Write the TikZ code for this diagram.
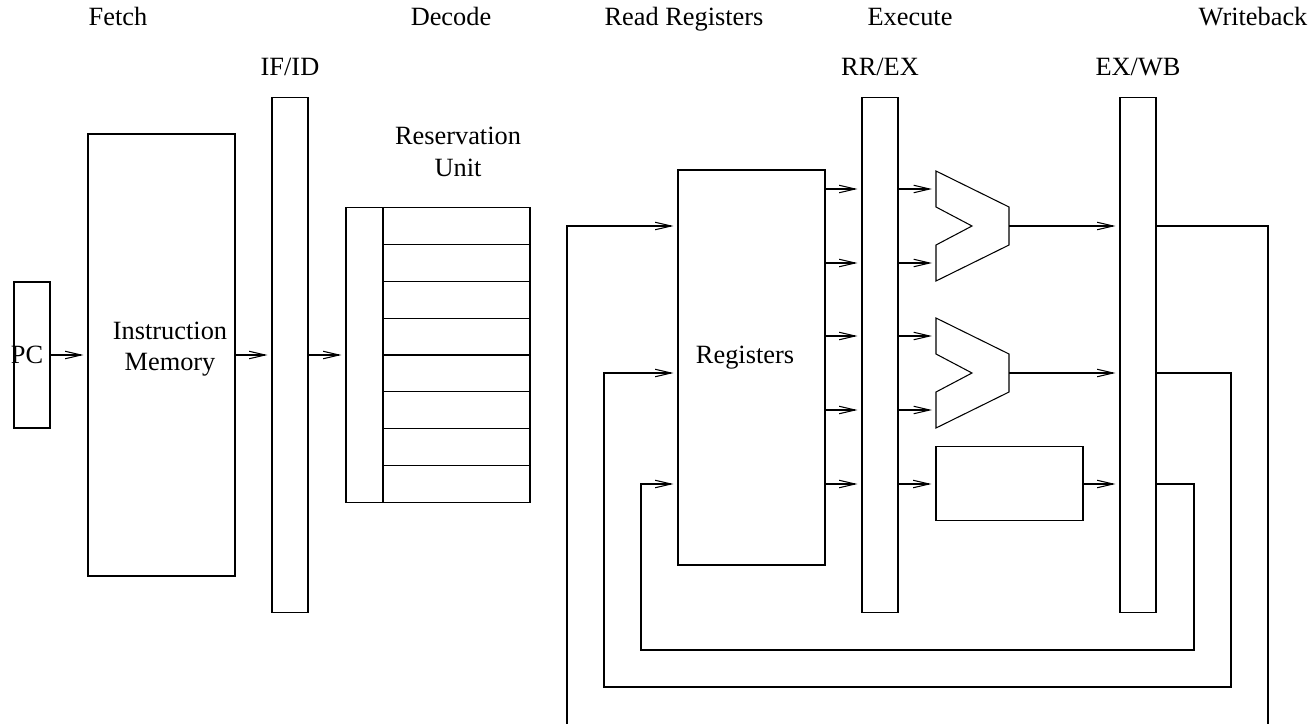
\documentclass[tikz,border=0pt]{standalone}
\usepackage{fontspec}
\setmainfont{Liberation Serif}
\usetikzlibrary{arrows.meta}
\newcommand{\px}{0.02cm}
\tikzset{
    Box/.style 2 args = {draw,inner sep=0pt,minimum width=#1*\px,minimum height=#2*\px},
    Arr/.style = {-{Straight Barb[length=0.32cm,width=0.15cm]},shorten >=0.08cm},
    Lbl/.style = {font=\fontsize{15}{18}\selectfont,inner sep=0pt},
    pics/alu/.style = {code={
        \draw (0,0) -- (73,36) -- (73,74) -- (0,110) -- (0,74) -- (36,55) -- (0,36) -- cycle;
        \coordinate (-in) at (0,55);
        \coordinate (-out) at (73,55);
    }}
}

\begin{document}
\begin{tikzpicture}[x=0.02cm,y=-0.02cm,line width=0.6pt]
    \useasboundingbox (0,0) rectangle (1310,723);
    \clip (0,0) rectangle (1310,723);
    % pipeline stages
    \foreach \x/\t [count=\i] in {118/Fetch,451/Decode,684/Read Registers,910/Execute,1253/Writeback}
        {\node[Lbl,anchor=base] (stage\i) at (\x,26) {\t};}
    % fetch
    \node[Box={36}{146}] (PC) at (32,355) {};
    \node[Lbl] (PCtext) at (27,355) {PC};
    \node[Box={147}{442}] (IM) at (161.5,355) {};
    \node[Lbl,align=center] (IMtext) at (170,349) {Instruction\\Memory};
    \node[Box={36}{515}] (IFID) at (290,355) {};
    \node[Lbl,anchor=base] (IFIDlbl) at (290,75) {IF/ID};
    % decode
    \node[Box={184}{295}] (RU) at (438,355) {};
    \node[Lbl,align=center] (RUlbl) at (458,152) {Reservation\\Unit};
    \draw (383,207.5) -- (383,502.5);
    \foreach \i in {1,...,7}
        {\draw (383,207.5+\i*36.875) -- (530,207.5+\i*36.875);}
    % read registers
    \node[Box={147}{395}] (Reg) at (751.5,367.5) {};
    \node[Lbl] (Regtext) at (745,358) {Registers};
    \node[Box={36}{515}] (RREX) at (880,355) {};
    \node[Lbl,anchor=base] (RREXlbl) at (880,75) {RR/EX};
    % execute
    \pic (A1) at (936,171) {alu};
    \pic (A2) at (936,318) {alu};
    \node[Box={147}{74}] (FU) at (1009.5,483.5) {};
    \node[Box={36}{515}] (EXWB) at (1138,355) {};
    \node[Lbl,anchor=base] (EXWBlbl) at (1138,75) {EX/WB};
    % forward path
    \draw[Arr] (PC) -- (IM);
    \draw[Arr] (IM) -- (IFID);
    \draw[Arr] (IFID) -- (RU);
    \foreach \y in {189,263,336,410,484}
        {\draw[Arr] (Reg.east |- 0,\y) -- (RREX.west |- 0,\y);}
    \foreach \y/\t in {189/A1-in,263/A1-in,336/A2-in,410/A2-in,484/FU.west}
        {\draw[Arr] (RREX.east |- 0,\y) -- (\t |- 0,\y);}
    \draw[Arr] (A1-out) -- (EXWB.west |- A1-out);
    \draw[Arr] (A2-out) -- (EXWB.west |- A2-out);
    \draw[Arr] (FU.east |- 0,484) -- (EXWB.west |- 0,484);
    % writeback
    \draw[Arr] (EXWB.east |- 0,226) -- (1268,226) |- (567,760) |- (Reg.west |- 0,226);
    \draw[Arr] (EXWB.east |- 0,373) -- (1231,373) |- (604,687) |- (Reg.west |- 0,373);
    \draw[Arr] (EXWB.east |- 0,484) -- (1194,484) |- (641,650) |- (Reg.west |- 0,484);
\end{tikzpicture}
\end{document}
